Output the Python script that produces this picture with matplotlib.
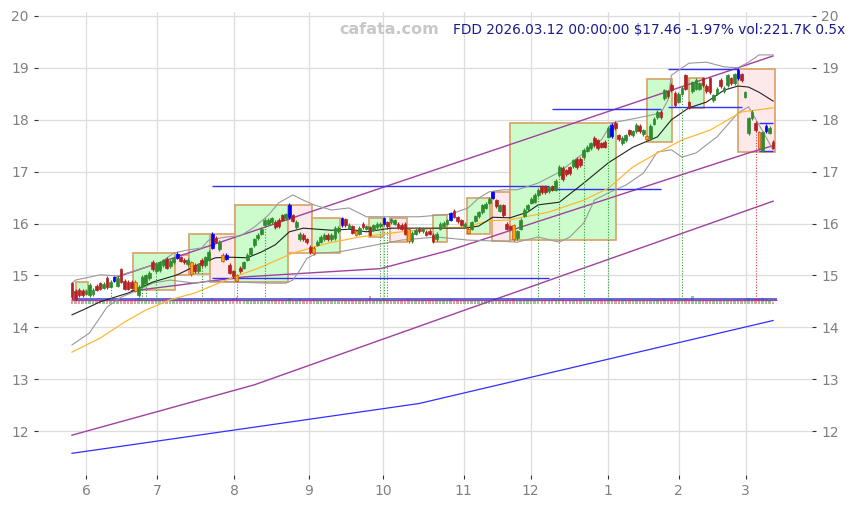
import matplotlib
matplotlib.use('Agg')
import matplotlib.pyplot as plt
from matplotlib.patches import Rectangle
import numpy as np

# ---------------- data ----------------
month_labels = ['6', '7', '8', '9', '10', '11', '12', '1', '2', '3']
month_pos = [4.0, 24.2, 46.3, 67.6, 88.7, 111.7, 130.8, 152.9, 173.1, 192.2]
y_ticks = [12, 13, 14, 15, 16, 17, 18, 19, 20]

opens = [14.85, 14.70, 14.72, 14.70, 14.65, 14.62, 14.64, 14.80, 14.85, 14.76,
         14.95, 14.78, 14.90, 14.80, 15.12, 14.90, 14.88, 14.88, 14.88, 14.62,
         14.80, 14.85, 14.95, 15.26, 15.08, 15.10, 15.20, 15.32, 15.18, 15.25,
         15.34, 15.35, 15.30, 15.22, 15.25, 15.20, 15.08, 15.30, 15.20, 15.30,
         15.53, 15.72, 15.50, 15.40, 15.32, 15.20, 15.08, 15.00, 15.15, 15.15,
         15.30, 15.42, 15.58, 15.72, 15.80, 15.97, 16.00, 16.02, 16.03, 16.07,
         16.16, 16.10, 16.12, 16.16, 15.93, 15.70, 15.78, 15.70, 15.55, 15.53,
         15.59, 15.65, 15.70, 15.78, 15.70, 15.72, 15.85, 15.97, 16.08, 15.92,
         15.95, 15.85, 15.80, 16.00, 15.90, 15.93, 15.88, 15.93, 15.95, 16.00,
         16.02, 16.02, 16.00, 15.99, 15.98, 15.99, 15.90, 15.66, 15.80, 15.90,
         15.85, 15.84, 15.86, 15.78, 15.70, 15.90, 15.95, 16.00, 16.07, 16.24,
         16.12, 16.06, 15.95, 15.90, 15.90, 16.05, 16.14, 16.22, 16.30, 16.40,
         16.50, 16.45, 16.25, 16.35, 16.00, 15.95, 15.97, 15.72, 15.90, 16.15,
         16.28, 16.40, 16.42, 16.55, 16.72, 16.72, 16.62, 16.72, 16.65, 16.93,
         17.07, 17.03, 17.08, 17.10, 17.25, 17.25, 17.28, 17.40, 17.45, 17.65,
         17.60, 17.55, 17.57, 17.67, 17.68, 17.94, 17.70, 17.55, 17.60, 17.80,
         17.70, 17.78, 17.88, 17.72, 17.68, 17.64, 17.92, 18.05, 18.15, 18.42,
         18.55, 18.67, 18.52, 18.35, 18.50, 18.86, 18.34, 18.55, 18.60, 18.60,
         18.80, 18.65, 18.80, 18.38, 18.50, 18.77, 18.55, 18.67, 18.80, 18.70,
         18.80, 18.88, 18.44, 17.74, 18.03, 17.94, 17.76, 17.40, 17.78, 17.75,
         17.57]
closes = [14.58, 14.55, 14.62, 14.62, 14.70, 14.82, 14.72, 14.72, 14.74, 14.84,
          14.77, 14.88, 14.96, 14.95, 14.88, 14.74, 14.74, 14.76, 14.70, 14.78,
          14.97, 15.00, 15.05, 15.12, 15.22, 15.25, 15.29, 15.15, 15.28, 15.33,
          15.42, 15.28, 15.25, 15.30, 15.02, 15.08, 15.20, 15.20, 15.35, 15.45,
          15.80, 15.65, 15.65, 15.28, 15.40, 15.05, 14.98, 14.90, 15.08, 15.25,
          15.40, 15.52, 15.70, 15.78, 15.90, 16.07, 16.07, 16.10, 15.93, 15.95,
          16.07, 16.18, 16.36, 16.05, 16.03, 15.80, 15.70, 15.64, 15.45, 15.43,
          15.65, 15.74, 15.78, 15.70, 15.78, 15.92, 15.92, 16.10, 15.97, 15.98,
          15.82, 15.78, 15.92, 15.93, 15.95, 15.78, 15.97, 16.00, 16.00, 16.10,
          15.95, 16.08, 16.06, 15.93, 15.90, 15.80, 15.66, 15.82, 15.88, 15.85,
          15.90, 15.78, 15.80, 15.66, 15.80, 15.99, 16.01, 16.06, 16.20, 16.13,
          16.04, 15.98, 16.00, 15.82, 16.02, 16.14, 16.22, 16.35, 16.38, 16.48,
          16.60, 16.33, 16.35, 16.16, 15.90, 15.90, 15.70, 15.85, 16.07, 16.26,
          16.35, 16.48, 16.55, 16.65, 16.60, 16.60, 16.70, 16.65, 16.82, 17.09,
          16.85, 16.95, 16.97, 17.22, 17.08, 17.12, 17.42, 17.48, 17.55, 17.51,
          17.45, 17.48, 17.48, 17.84, 17.90, 17.84, 17.62, 17.65, 17.70, 17.72,
          17.78, 17.90, 17.78, 17.80, 17.62, 17.88, 18.02, 18.15, 18.05, 18.57,
          18.45, 18.57, 18.28, 18.50, 18.62, 18.60, 18.23, 18.72, 18.77, 18.70,
          18.67, 18.55, 18.53, 18.47, 18.60, 18.65, 18.62, 18.86, 18.70, 18.88,
          18.96, 18.76, 18.53, 18.03, 18.15, 17.80, 17.45, 17.76, 17.88, 17.85,
          17.46]
highs = [max(o, c) + 0.03 for o, c in zip(opens, closes)]
lows = [min(o, c) - 0.03 for o, c in zip(opens, closes)]
blue_idx = [12, 30, 40, 44, 62, 77, 89, 108, 120, 154, 190, 198]
orange_idx = [18, 34, 43, 47, 69, 81, 96, 113, 126, 164, 196]

volume_k = [520, 410, 380, 450, 390, 470, 360, 420, 400, 380,
            430, 390, 410, 450, 520, 480, 440, 400, 560, 610,
            450, 420, 390, 460, 410, 380, 420, 400, 370, 390,
            450, 410, 380, 360, 520, 470, 420, 390, 410, 460,
            680, 480, 450, 520, 430, 560, 510, 820, 470, 430,
            440, 460, 480, 430, 450, 470, 420, 410, 440, 460,
            430, 410, 620, 480, 450, 520, 430, 410, 480, 500,
            430, 420, 400, 410, 380, 440, 400, 470, 430, 390,
            410, 450, 400, 390, 420, 900, 410, 430, 450, 520,
            420, 400, 390, 380, 410, 450, 560, 420, 390, 400,
            380, 410, 400, 450, 420, 400, 390, 410, 530, 470,
            430, 420, 400, 480, 420, 440, 450, 460, 430, 420,
            510, 460, 430, 470, 450, 440, 580, 420, 450, 470,
            430, 440, 420, 460, 450, 430, 420, 440, 460, 470,
            480, 430, 420, 450, 430, 440, 460, 420, 410, 430,
            420, 400, 410, 450, 490, 440, 420, 400, 410, 390,
            400, 420, 410, 400, 480, 450, 430, 440, 420, 510,
            460, 440, 490, 430, 450, 520, 480, 880, 450, 430,
            440, 420, 460, 430, 420, 450, 440, 430, 420, 450,
            520, 480, 560, 620, 500, 580, 640, 700, 520, 480,
            222]

# moving average / bands (index, value)
ma_short_i = [0, 3, 8, 16, 23, 30, 37, 41, 45, 50, 54, 58, 62, 66, 70, 74, 79, 84, 91, 104,
              112, 116, 120, 125, 130, 133, 139, 146, 153, 160, 167, 171, 176, 181, 186,
              190, 193, 196, 200]
ma_short_v = [14.24, 14.33, 14.49, 14.66, 14.87, 15.01, 15.24, 15.34, 15.35, 15.34, 15.45,
              15.59, 15.84, 15.91, 15.89, 15.87, 15.89, 15.84, 15.91, 15.91, 15.91, 15.95,
              16.12, 16.11, 16.22, 16.36, 16.41, 16.78, 17.17, 17.47, 17.67, 18.00, 18.23,
              18.34, 18.57, 18.65, 18.63, 18.53, 18.36]
ma_long_i = [0, 8, 15, 21, 28, 35, 44, 54, 63, 73, 82, 94, 104, 112, 119, 125, 136, 146,
             153, 160, 167, 174, 182, 191, 200]
ma_long_v = [13.52, 13.79, 14.10, 14.33, 14.53, 14.66, 14.91, 15.16, 15.43, 15.62, 15.74,
             15.84, 15.91, 15.93, 16.05, 16.07, 16.22, 16.45, 16.68, 17.09, 17.36, 17.61,
             17.80, 18.15, 18.23]
band_up_i = [0, 1, 8, 13, 17, 25, 29, 33, 37, 39, 44, 48, 52, 56, 59, 63, 66, 69, 74, 79,
             84, 90, 99, 108, 113, 116, 119, 123, 127, 133, 139, 146, 151, 154, 161, 168,
             170, 171, 176, 181, 186, 190, 193, 196, 200]
band_up_v = [14.85, 14.91, 15.01, 14.99, 15.07, 15.24, 15.43, 15.49, 15.53, 15.68, 15.74,
             15.76, 15.93, 16.16, 16.40, 16.55, 16.45, 16.36, 16.26, 16.30, 16.13, 16.13,
             16.13, 16.18, 16.30, 16.49, 16.61, 16.65, 16.65, 16.78, 16.99, 17.36, 17.61,
             17.94, 18.03, 18.13, 18.38, 18.86, 19.09, 19.11, 19.02, 19.00, 19.11, 19.25,
             19.25]
band_lo_i = [0, 5, 10, 14, 19, 23, 28, 35, 39, 47, 56, 61, 63, 65, 67, 70, 76, 94, 104,
             113, 122, 127, 133, 139, 142, 146, 149, 153, 158, 163, 167, 171, 174, 178,
             184, 190, 193, 196, 200]
band_lo_v = [13.66, 13.89, 14.39, 14.58, 14.72, 14.85, 14.91, 14.85, 14.89, 14.87, 14.85,
             14.85, 14.91, 15.10, 15.33, 15.43, 15.45, 15.68, 15.74, 15.68, 15.66, 15.64,
             15.74, 15.64, 15.74, 16.01, 16.45, 16.59, 16.74, 16.97, 17.38, 17.42, 17.28,
             17.36, 17.67, 18.13, 18.25, 17.90, 17.42]

# trend lines (index, value)
trend_top_i = [12, 200]
trend_top_v = [14.95, 19.23]
trend_mid_i = [17, 49, 88, 108, 193, 200]
trend_mid_v = [14.70, 14.97, 15.13, 15.49, 17.36, 17.50]
trend_low_i = [0, 52, 112, 200]
trend_low_v = [11.92, 12.89, 14.33, 16.43]
trend_base_i = [0, 99, 200]
trend_base_v = [11.57, 12.53, 14.13]

# consolidation boxes: start index, end index, low, high, kind
box_i0 = [1.2, 17.4, 29.4, 33.4, 39.3, 46.5, 61.6, 68.5, 84.7, 90.7, 103.0, 112.7, 119.8, 125.0, 164.0, 176.0, 190.0]
box_i1 = [4.5, 29.4, 33.4, 39.3, 46.5, 61.6, 68.5, 76.5, 88.7, 95.6, 107.0, 119.3, 125.0, 155.2, 171.2, 180.3, 200.6]
box_lo = [14.70, 14.72, 15.00, 15.03, 14.87, 14.87, 15.43, 15.43, 15.74, 15.64, 15.64, 15.80, 15.66, 15.68, 17.57, 18.23, 17.38]
box_hi = [14.88, 15.43, 15.39, 15.80, 15.80, 16.36, 16.36, 16.10, 16.10, 16.10, 16.16, 16.50, 16.61, 17.94, 18.79, 18.80, 18.98]
box_kind = ['g', 'g', 'p', 'g', 'p', 'g', 'p', 'g', 'g', 'p', 'g', 'g', 'p', 'g', 'g', 'g', 'p']

# horizontal support / resistance levels: start index, end index, value
level_i0 = [40, 136, 40, 137, 170, 170, 196, 196]
level_i1 = [136, 168, 136, 168, 191, 190, 200, 200]
level_v = [16.72, 16.66, 14.95, 18.21, 18.25, 18.98, 17.94, 17.40]
volume_line_v = 14.54

dot_green_idx = [11, 19, 20, 21, 24, 37, 47, 55, 88, 89, 90, 133, 139, 146, 153, 174]
dot_red_idx = [195]

# ---------------- figure ----------------
W, H = 862, 508
fig = plt.figure(figsize=(W / 100, H / 100), dpi=100)
ax = fig.add_axes([38 / W, 33 / H, 774 / W, 463 / H])
ax.set_xlim(-9.7, 211.1)
ax.set_ylim(11.152, 20.077)
for s in ax.spines.values():
    s.set_visible(False)
ax.grid(True, color='#dddddd', lw=0.9, zorder=0)
ax.set_axisbelow(True)
ax.set_xticks(month_pos)
ax.set_xticklabels(month_labels)
ax.set_yticks(y_ticks)
ax.tick_params(axis='both', colors='#333333', labelcolor='#808080', labelsize=10, length=3)
ax.tick_params(axis='y', left=True, right=True, labelleft=True, labelright=True)

n = len(closes)
idx = np.arange(n)

# boxes
for a, b, lo, hi, k in zip(box_i0, box_i1, box_lo, box_hi, box_kind):
    fc = '#ccfccc' if k == 'g' else '#fde9e9'
    ax.add_patch(Rectangle((a, lo), b - a, hi - lo, facecolor=fc, edgecolor='#d9a066',
                           lw=1.2, zorder=1))

# volume strip
vol = np.array(volume_k)
vcol = ['#70b870' if c >= o else '#d88080' for o, c in zip(opens, closes)]
ax.bar(idx, vol * 0.000165, bottom=14.455, width=0.7, color=vcol, alpha=0.75, zorder=2)

# trend lines
ax.plot(trend_top_i, trend_top_v, color='#a040a0', lw=1.0, zorder=3)
ax.plot(trend_mid_i, trend_mid_v, color='#a040a0', lw=1.0, zorder=3)
ax.plot(trend_low_i, trend_low_v, color='#a040a0', lw=1.0, zorder=3)
ax.plot(trend_base_i, trend_base_v, color='#3030ff', lw=0.9, zorder=3)

# levels
for a, b, v in zip(level_i0, level_i1, level_v):
    ax.hlines(v, a, b, color='#3030ff', lw=1.0, zorder=3)
ax.hlines(volume_line_v, 0, n, color='#3a3ad0', lw=1.1, zorder=3)
ax.hlines(volume_line_v - 0.018, 0, n, color='#a040a0', lw=0.9, zorder=3)

# averages and bands
ax.plot(band_up_i, band_up_v, color='#999999', lw=0.8, zorder=3)
ax.plot(band_lo_i, band_lo_v, color='#999999', lw=0.8, zorder=3)
ax.plot(ma_long_i, ma_long_v, color='#ffb733', lw=0.9, zorder=3)
ax.plot(ma_short_i, ma_short_v, color='#222222', lw=0.8, zorder=3)

# dotted markers
for i in dot_green_idx:
    ax.vlines(i, volume_line_v, lows[i], color='#3a9a3a', lw=0.8, linestyles=(0, (1, 1.5)), zorder=3)
for i in dot_red_idx:
    ax.vlines(i, volume_line_v, lows[i], color='#d04040', lw=0.8, linestyles=(0, (1, 1.5)), zorder=3)

# candles
colors = []
edges = []
for i, (o, c) in enumerate(zip(opens, closes)):
    if i in blue_idx:
        colors.append('#0000ff'); edges.append('#0000ff')
    elif i in orange_idx:
        colors.append('#ffa500'); edges.append('#c8501e')
    elif c >= o:
        colors.append('#2e8b2e'); edges.append('#2e8b2e')
    else:
        colors.append('#b22222'); edges.append('#b22222')
ax.vlines(idx, lows, highs, colors=edges, lw=0.9, zorder=4)
body_lo = np.minimum(opens, closes)
body_h = np.maximum(np.abs(np.array(closes) - np.array(opens)), 0.02)
ax.bar(idx, body_h, bottom=body_lo, width=0.8, color=colors, edgecolor=edges, lw=0.5, zorder=5)

fig.text(389 / W, 1 - 29 / H, 'cafata.com', color='#c8c8c8', fontsize=11.5, fontweight='bold',
         ha='center', va='center')
fig.text(453 / W, 1 - 30.5 / H, 'FDD 2026.03.12 00:00:00 $17.46 -1.97% vol:221.7K 0.5x',
         color='#1a1a8c', fontsize=9.8, ha='left', va='center')

fig.savefig('out.png', dpi=100)
